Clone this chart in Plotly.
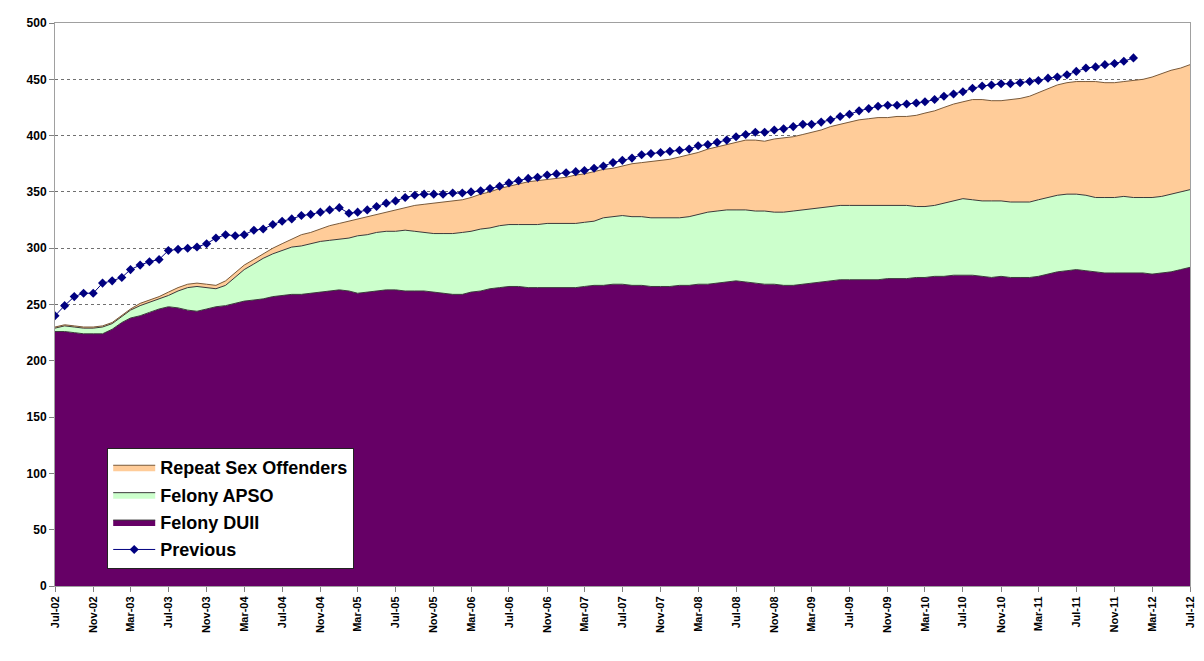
import pandas as pd
import plotly.graph_objects as go

# Monthly categories Jul-02 .. Jul-12
months = pd.date_range("2002-07-01", "2012-07-01", freq="MS")

felony_duii = [
    226, 226, 225, 224, 224, 224, 228, 234, 238, 240, 243, 246, 248, 247, 245, 244, 246, 248, 249, 251, 253,
    254, 255, 257, 258, 259, 259, 260, 261, 262, 263, 262, 260, 261, 262, 263, 263, 262, 262, 262, 261,
    260, 259, 259, 261, 262, 264, 265, 266, 266, 265, 265, 265, 265, 265, 265, 266, 267, 267, 268, 268,
    267, 267, 266, 266, 266, 267, 267, 268, 268, 269, 270, 271, 270, 269, 268, 268, 267, 267, 268, 269,
    270, 271, 272, 272, 272, 272, 272, 273, 273, 273, 274, 274, 275, 275, 276, 276, 276, 275, 274, 275,
    274, 274, 274, 275, 277, 279, 280, 281, 280, 279, 278, 278, 278, 278, 278, 277, 278, 279, 281, 283,
]
felony_apso = [
    3, 5, 5, 5, 5, 6, 5, 5, 7, 9, 9, 9, 10, 15, 20, 22, 19, 16, 18, 23, 28,
    32, 36, 38, 40, 42, 43, 44, 45, 45, 45, 47, 51, 51, 52, 52, 52, 54, 53, 52, 52,
    53, 54, 55, 54, 55, 54, 55, 55, 55, 56, 56, 57, 57, 57, 57, 57, 57, 60, 60, 61,
    61, 61, 61, 61, 61, 60, 61, 62, 64, 64, 64, 63, 64, 64, 65, 64, 65, 66, 66, 66,
    66, 66, 66, 66, 66, 66, 66, 65, 65, 65, 63, 63, 63, 65, 66, 68, 67, 67, 68, 67,
    67, 67, 67, 68, 68, 68, 68, 67, 67, 66, 67, 67, 68, 67, 67, 68, 68, 69, 69, 69,
]
repeat_sex_offenders = [
    1, 1, 1, 1, 1, 1, 1, 1, 1, 2, 2, 2, 3, 3, 3, 3, 3, 3, 4, 4, 4,
    4, 4, 5, 6, 7, 10, 10, 11, 13, 14, 15, 15, 16, 16, 17, 19, 20, 23, 25, 27,
    28, 29, 29, 30, 31, 32, 33, 34, 36, 38, 39, 39, 40, 41, 43, 43, 44, 43, 43, 44,
    47, 48, 50, 51, 52, 54, 55, 55, 56, 57, 58, 60, 62, 63, 62, 65, 66, 66, 67, 68,
    69, 71, 72, 74, 76, 77, 78, 78, 79, 79, 81, 83, 84, 85, 86, 86, 89, 90, 89, 89,
    91, 92, 94, 95, 97, 98, 99, 100, 101, 103, 102, 102, 102, 104, 105, 107, 109, 110, 110, 111,
]
previous = [
    240, 249, 257, 260, 260, 269, 271, 274, 281, 285, 288, 290, 298, 299, 300, 301, 304, 309, 312, 311, 312,
    316, 317, 321, 324, 326, 329, 330, 332, 334, 336, 331, 332, 334, 337, 340, 342, 345, 347, 348, 348,
    348, 349, 349, 350, 351, 353, 355, 358, 360, 362, 363, 365, 366, 367, 368, 369, 371, 373, 376, 378,
    380, 383, 384, 385, 386, 387, 388, 391, 392, 394, 396, 399, 401, 403, 403, 405, 406, 408, 410, 410,
    412, 414, 417, 419, 422, 424, 426, 427, 427, 428, 429, 430, 432, 435, 437, 439, 442, 444, 445, 446,
    446, 447, 448, 449, 451, 452, 454, 457, 460, 461, 463, 464, 466, 469,
]

fig = go.Figure()
outline = dict(color="#3a3a3a", width=1)
fig.add_trace(go.Scatter(x=months, y=felony_duii, name="Felony DUII", stackgroup="s",
                         mode="lines", line=outline, fillcolor="#660066",
                         legendrank=3, legendgroup="c"))
fig.add_trace(go.Scatter(x=months, y=felony_apso, name="Felony APSO", stackgroup="s",
                         mode="lines", line=outline, fillcolor="#CCFFCC",
                         legendrank=2, legendgroup="b"))
fig.add_trace(go.Scatter(x=months, y=repeat_sex_offenders, name="Repeat Sex Offenders",
                         stackgroup="s", mode="lines", line=dict(color="#7a5a3a", width=1),
                         fillcolor="#FFCC99", legendrank=1, legendgroup="a"))
fig.add_trace(go.Scatter(x=months[:len(previous)], y=previous, name="Previous",
                         mode="lines+markers", line=dict(color="#000080", width=1),
                         marker=dict(symbol="diamond", size=7, color="#000080"),
                         legendrank=4, legendgroup="d"))

# the page body adds an 8px offset, so the figure is sized to fit the window
fig.update_layout(
    width=1196, height=653,
    margin=dict(l=47, r=8, t=8, b=75),
    paper_bgcolor="white", plot_bgcolor="white",
    font=dict(family="Liberation Sans, Arial, sans-serif", color="black"),
    showlegend=True,
    legend=dict(
        x=0.046, y=0.245, xanchor="left", yanchor="top",
        bgcolor="white", bordercolor="#222222", borderwidth=1,
        font=dict(size=18, color="black", weight="bold"),
        tracegroupgap=1, traceorder="grouped", itemwidth=42,
    ),
)
fig.update_xaxes(
    type="date", range=["2002-07-01", "2012-07-01"],
    tick0="2002-07-01", dtick="M4", tickformat="%b-%y",
    tickangle=-90, ticks="outside", ticklen=5, tickcolor="#808080",
    tickfont=dict(size=11, weight="bold"),
    showgrid=False, showline=True, linecolor="#a0a0a0", mirror=True,
    zeroline=False,
)
fig.update_yaxes(
    range=[0, 500], dtick=50, ticks="outside", ticklen=5, tickcolor="#808080",
    tickfont=dict(size=12, weight="bold"),
    showgrid=True, gridcolor="#707070", griddash="3px,3px", gridwidth=1,
    showline=True, linecolor="#a0a0a0", mirror=True, zeroline=False,
)

fig.write_html("out.html")
